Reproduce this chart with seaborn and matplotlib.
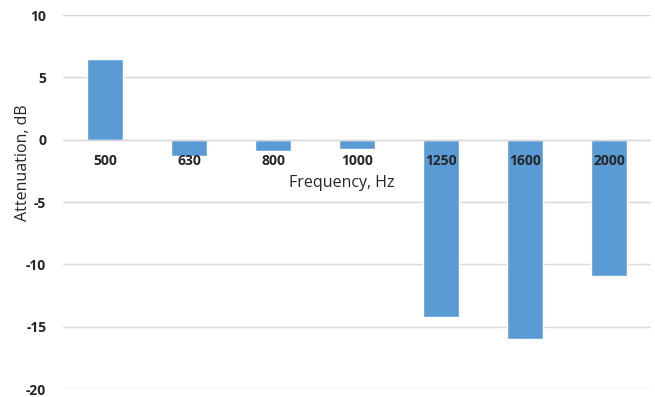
import pandas as pd
import seaborn as sns
import matplotlib.pyplot as plt

freqs = ['500', '630', '800', '1000', '1250', '1600', '2000']
attenuation = [6.45, -1.35, -0.9, -0.72, -14.2, -16.0, -10.9]

df = pd.DataFrame({'Frequency': freqs, 'Attenuation': attenuation})

sns.set_style('white')
plt.rcParams['font.family'] = ['Open Sans', 'DejaVu Sans']
plt.rcParams['axes.unicode_minus'] = False

fig = plt.figure(figsize=(6.55, 3.97), dpi=100)
ax = fig.add_axes([63 / 655, 1 - 389 / 397, 588 / 655, 374 / 397])

sns.barplot(x='Frequency', y='Attenuation', data=df, order=freqs, color='#5B9BD5',
            saturation=1, width=0.44, ax=ax, zorder=2)

ax.set_ylim(-20, 10)
ax.set_yticks([10, 5, 0, -5, -10, -15, -20])
ax.grid(axis='y', color='#D9D9D9', linewidth=1)
ax.set_axisbelow(True)
ax.axhline(0, color='#D9D9D9', linewidth=1, zorder=3)
ax.xaxis.set_zorder(5)  # category labels sit on top of the bars

for s in ['top', 'right', 'left']:
    ax.spines[s].set_visible(False)
ax.spines['bottom'].set_position(('data', 0))
ax.spines['bottom'].set_visible(False)

ax.tick_params(axis='both', length=0, labelsize=10)
ax.tick_params(axis='x', pad=10)
ax.tick_params(axis='y', pad=12)
for lab in ax.get_xticklabels() + ax.get_yticklabels():
    lab.set_fontweight('bold')

ax.set_xlabel('Frequency, Hz', fontsize=11.5)
ax.set_ylabel('Attenuation, dB', fontsize=11.5, va='center')
ax.xaxis.set_label_coords(0.474, 0.55)
ax.yaxis.set_label_coords(-0.068, 0.604)
ax.xaxis.label.set_va('center')

fig.savefig('out.png', dpi=100)
